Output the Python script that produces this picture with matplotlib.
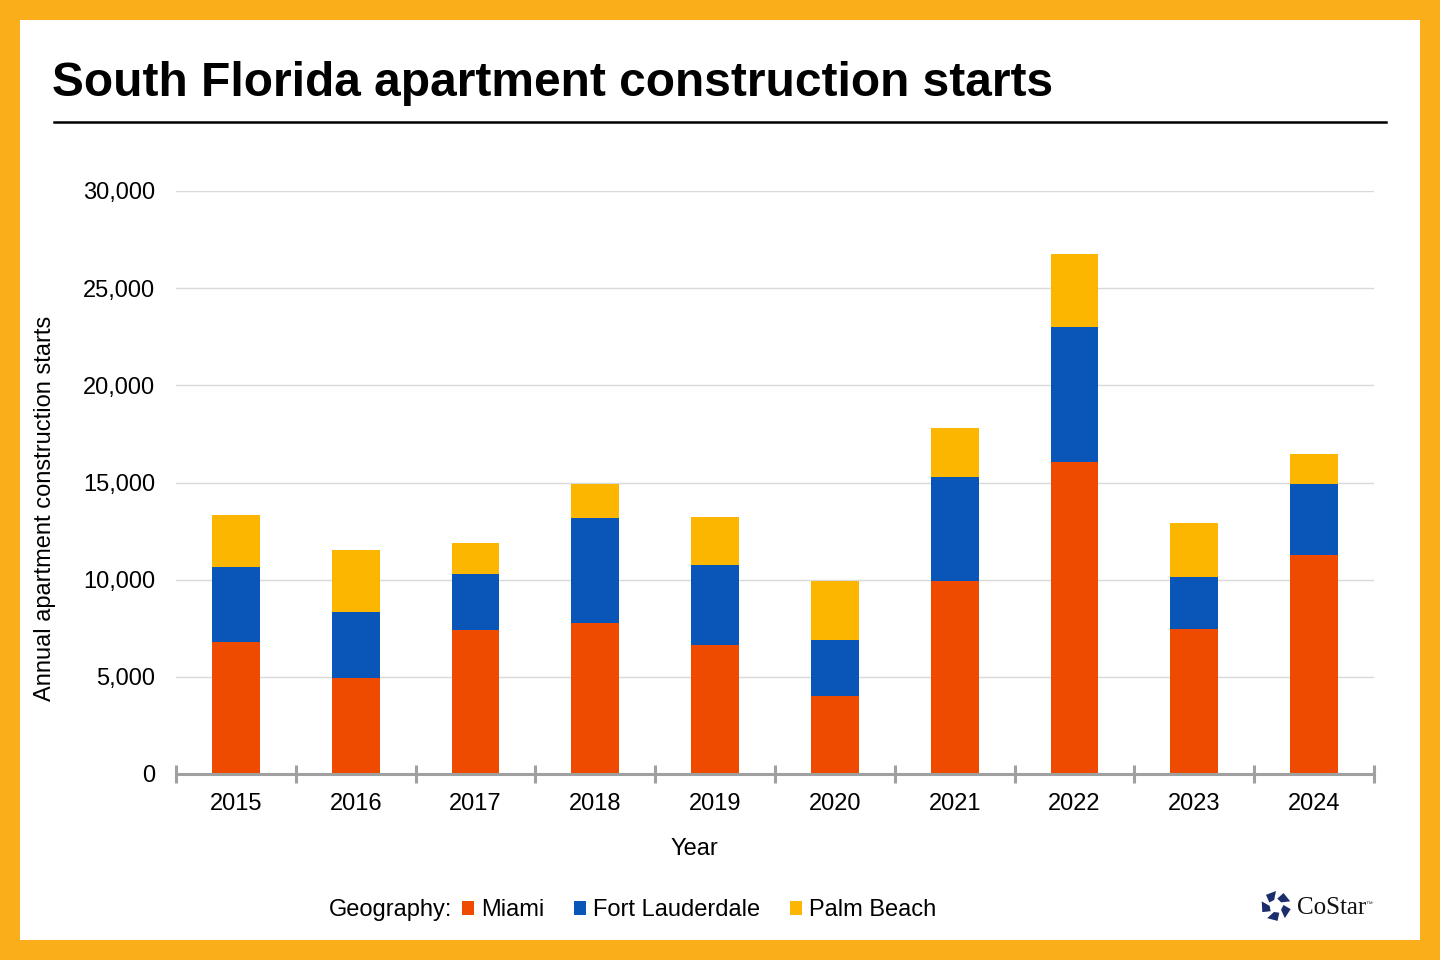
import matplotlib
matplotlib.use("Agg")
import matplotlib.pyplot as plt
from matplotlib.patches import Rectangle, Polygon
import numpy as np

years = ["2015", "2016", "2017", "2018", "2019", "2020", "2021", "2022", "2023", "2024"]
miami = [6800, 4950, 7400, 7750, 6650, 4000, 9950, 16050, 7450, 11250]
fort_lauderdale = [3850, 3400, 2900, 5400, 4100, 2900, 5350, 6950, 2700, 3650]
palm_beach = [2700, 3200, 1600, 1750, 2450, 3050, 2500, 3750, 2750, 1550]
series_names = ["Miami", "Fort Lauderdale", "Palm Beach"]
colors = ["#EE4B00", "#0A56B8", "#FDB600"]
yticks = [0, 5000, 10000, 15000, 20000, 25000, 30000]

plt.rcParams['font.family'] = ['Liberation Sans', 'DejaVu Sans']

W, H = 1440, 960
FS = 17
fig = plt.figure(figsize=(W / 100, H / 100), dpi=100, facecolor="#F9AE1A")

def fx(x):
    return x / W

def fy(y):
    return 1 - y / H

# white panel
fig.patches.append(Rectangle((fx(20), fy(940)), fx(1400), 920 / H, transform=fig.transFigure,
                             facecolor="white", edgecolor="none", zorder=-10))

# title + rule
fig.text(fx(52), fy(83), "South Florida apartment construction starts", fontsize=34.5,
         fontweight="bold", va="center", ha="left", color="black")
fig.add_artist(plt.Line2D([fx(54), fx(1386)], [fy(122), fy(122)], transform=fig.transFigure,
                          color="black", linewidth=1.8))

ax = fig.add_axes([fx(176), fy(774), fx(1374) - fx(176), (774 - 191) / H])
ax.set_facecolor("none")

x = np.arange(len(years))
width = 0.40
bottoms = np.zeros(len(years))
for vals, col, name in zip([miami, fort_lauderdale, palm_beach], colors, series_names):
    ax.bar(x, vals, width, bottom=bottoms, color=col, label=name, zorder=2)
    bottoms += np.array(vals)

ax.set_xlim(-0.5, len(years) - 0.5)
ax.set_ylim(0, 30000)
for t in yticks[1:]:
    ax.axhline(t, color="#D9D9D9", linewidth=1.0, zorder=0)

ax.set_yticks(yticks)
ax.set_yticklabels([f"{t:,}" for t in yticks], fontsize=FS)
ax.tick_params(axis="y", length=0, pad=15)

ax.set_xticks(np.arange(-0.5, len(years), 1.0))
ax.set_xticklabels([])
ax.tick_params(axis="x", which="major", direction="inout", length=13, width=2.2, color="#A0A0A0")
ax.set_xticks(x, minor=True)
ax.set_xticklabels(years, minor=True, fontsize=FS)
ax.tick_params(axis="x", which="minor", direction="in", length=4, width=2.0, color="#A0A0A0", pad=14)

for s in ["top", "right", "left"]:
    ax.spines[s].set_visible(False)
ax.spines["bottom"].set_color("#A0A0A0")
ax.spines["bottom"].set_linewidth(2.2)
ax.spines["bottom"].set_zorder(3)

fig.text(fx(694), fy(849), "Year", fontsize=FS, ha="center", va="center")
fig.text(fx(45), fy(508), "Annual apartment construction starts", fontsize=FS, ha="center",
         va="center", rotation=90)

# legend
fig.text(fx(329), fy(910), "Geography:", fontsize=FS, ha="left", va="center")
handles, labels = ax.get_legend_handles_labels()
leg = fig.legend(handles, labels, loc="center left", bbox_to_anchor=(fx(462), fy(910)),
                 ncol=3, frameon=False, fontsize=FS, handlelength=0.52, handleheight=0.52,
                 handletextpad=0.30, columnspacing=1.25, borderaxespad=0, borderpad=0)

# CoStar logo
cx, cy, r = 1276, 906, 15
navy = "#1B2D6B"
for k in range(5):
    a = np.deg2rad(90 + 72 * k)
    b = np.deg2rad(90 + 72 * k + 42)
    pts = [(cx + 0.42 * r * np.cos(a + 0.3), cy - 0.42 * r * np.sin(a + 0.3)),
           (cx + r * np.cos(a), cy - r * np.sin(a)),
           (cx + r * np.cos(b), cy - r * np.sin(b)),
           (cx + 0.5 * r * np.cos(b + 0.35), cy - 0.5 * r * np.sin(b + 0.35))]
    fig.patches.append(Polygon([(fx(p[0]), fy(p[1])) for p in pts], closed=True,
                               transform=fig.transFigure, facecolor=navy, edgecolor="none"))
fig.text(fx(1297), fy(908), "CoStar", fontsize=18, family=["Liberation Serif", "DejaVu Serif"],
         color="#111111", ha="left", va="center")
fig.text(fx(1365), fy(904), "™", fontsize=5, color="#333333", ha="left", va="center")

fig.savefig("out.png", dpi=100, facecolor=fig.get_facecolor())
